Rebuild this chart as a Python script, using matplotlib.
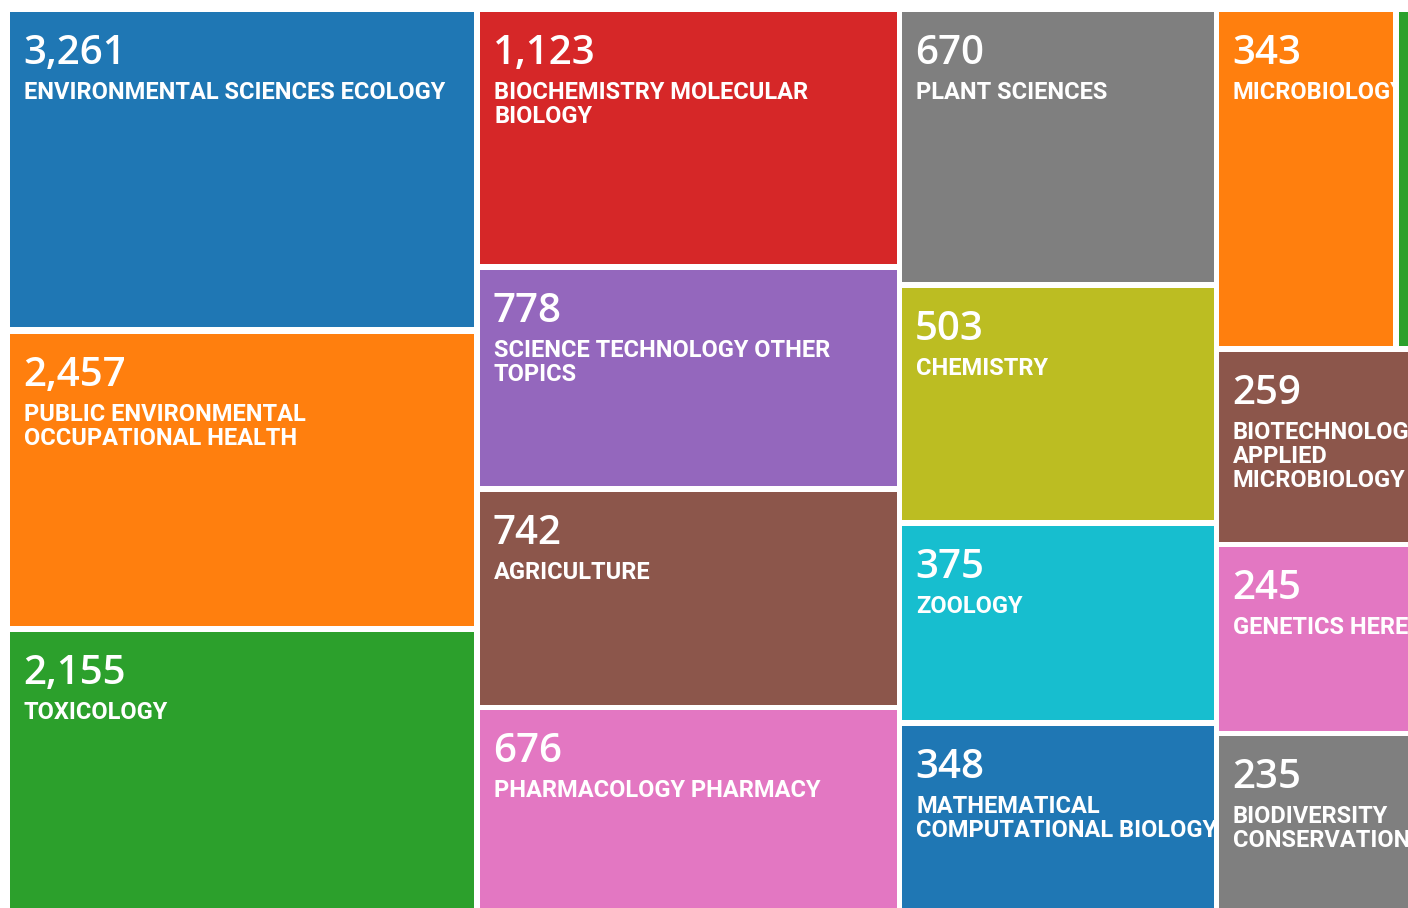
import matplotlib.pyplot as plt
from matplotlib.patches import Rectangle
from matplotlib.transforms import Bbox, TransformedBbox

# data
labels = ['ENVIRONMENTAL SCIENCES ECOLOGY', 'PUBLIC ENVIRONMENTAL\nOCCUPATIONAL HEALTH', 'TOXICOLOGY',
          'BIOCHEMISTRY MOLECULAR\nBIOLOGY', 'SCIENCE TECHNOLOGY OTHER\nTOPICS', 'AGRICULTURE',
          'PHARMACOLOGY PHARMACY',
          'PLANT SCIENCES', 'CHEMISTRY', 'ZOOLOGY', 'MATHEMATICAL\nCOMPUTATIONAL BIOLOGY',
          'MICROBIOLOGY', 'BIOTECHNOLOGY\nAPPLIED\nMICROBIOLOGY', 'GENETICS HEREDITY',
          'BIODIVERSITY\nCONSERVATION', '']
values = [3261, 2457, 2155, 1123, 778, 742, 676, 670, 503, 375, 348, 343, 259, 245, 235, None]
colors = ['#1f77b4', '#ff7f0e', '#2ca02c', '#d62728', '#9467bd', '#8c564b', '#e377c2',
          '#7f7f7f', '#bcbd22', '#17becf', '#1f77b4', '#ff7f0e', '#8c564b', '#e377c2',
          '#7f7f7f', '#2ca02c']

# layout of the (cropped) treemap cells in pixels: x0, y0, x1, y1
boxes = [(10, 12, 474, 327), (10, 334, 474, 626), (10, 632, 474, 912),
         (480, 12, 897, 264), (480, 270, 897, 486), (480, 492, 897, 705), (480, 710, 897, 912),
         (902, 12, 1214, 282), (902, 288, 1214, 520), (902, 526, 1214, 720), (902, 726, 1214, 912),
         (1219, 12, 1393, 346), (1219, 352, 1412, 542), (1219, 547, 1412, 731), (1219, 736, 1412, 912),
         (1399, 12, 1412, 346)]

fig = plt.figure(figsize=(14.08, 9.08), dpi=100)
ax = fig.add_axes([0, 0, 1, 1])
ax.set_xlim(0, 1408)
ax.set_ylim(908, 0)
ax.axis('off')

for lab, val, col, (x0, y0, x1, y1) in zip(labels, values, colors, boxes):
    ax.add_patch(Rectangle((x0, y0), x1 - x0, y1 - y0, facecolor=col, edgecolor='none'))
    if val is None:
        continue
    clip = TransformedBbox(Bbox([[x0, y0], [x1, y1]]), ax.transData)
    t1 = ax.text(x0 + 13, y0 + 52, f'{val:,}', color='white', fontsize=29,
                 family='Open Sans', fontweight='semibold', va='baseline', ha='left')
    t2 = ax.text(x0 + 14, y0 + 69, lab, color='white', fontsize=17, family='Roboto',
                 fontweight='bold', va='top', ha='left', linespacing=1.06)
    for t in (t1, t2):
        t.set_clip_box(clip)
        t.set_clip_on(True)

fig.savefig('out.png', dpi=100)
